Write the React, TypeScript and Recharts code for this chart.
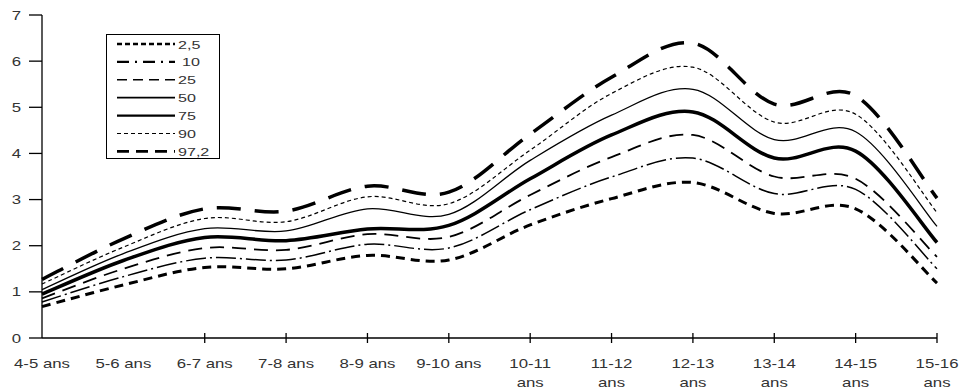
import React from 'react';
import { LineChart, Line, XAxis, YAxis, Legend } from 'recharts';

const categories = ['4-5 ans', '5-6 ans', '6-7 ans', '7-8 ans', '8-9 ans', '9-10 ans', '10-11 ans', '11-12 ans', '12-13 ans', '13-14 ans', '14-15 ans', '15-16 ans'];

const p2_5 = [0.68, 1.15, 1.53, 1.5, 1.79, 1.69, 2.45, 3.02, 3.37, 2.7, 2.8, 1.19];
const p10 = [0.78, 1.33, 1.73, 1.69, 2.03, 1.95, 2.78, 3.49, 3.9, 3.13, 3.22, 1.5];
const p25 = [0.86, 1.5, 1.95, 1.91, 2.25, 2.19, 3.1, 3.92, 4.4, 3.5, 3.45, 1.76];
const p50 = [0.95, 1.68, 2.18, 2.11, 2.36, 2.44, 3.45, 4.4, 4.9, 3.9, 4.05, 2.07];
const p75 = [1.05, 1.83, 2.37, 2.32, 2.8, 2.68, 3.85, 4.83, 5.39, 4.3, 4.47, 2.42];
const p90 = [1.17, 1.97, 2.59, 2.52, 3.06, 2.91, 4.07, 5.3, 5.87, 4.68, 4.85, 2.72];
const p97_2 = [1.27, 2.15, 2.8, 2.75, 3.29, 3.16, 4.42, 5.65, 6.39, 5.07, 5.25, 3.03];

const seriesNames = ['2,5', '10', '25', '50', '75', '90', '97,2'];
const seriesValues = [p2_5, p10, p25, p50, p75, p90, p97_2];
const yTicks = [0, 1, 2, 3, 4, 5, 6, 7];

const seriesStyles = [
  { dash: '9 6', width: 3, legendDash: '5 3', legendWidth: 2.4 },
  { dash: '20 4 2 4', width: 1.5, legendDash: '12 6 2 6', legendWidth: 2.2 },
  { dash: '14 8', width: 1.8, legendDash: '10 6', legendWidth: 1.6 },
  { dash: undefined, width: 3.5, legendDash: undefined, legendWidth: 1.8 },
  { dash: undefined, width: 1.3, legendDash: undefined, legendWidth: 2.2 },
  { dash: '4 3', width: 1.2, legendDash: '4 3', legendWidth: 1.2 },
  { dash: '24 14', width: 3.5, legendDash: '12 7', legendWidth: 2.6 },
];

const data = categories.map((cat, i) => {
  const row: Record<string, any> = { cat };
  seriesValues.forEach((vals, s) => {
    row['s' + s] = vals[i];
  });
  return row;
});

// Excel-like smoothed line (Catmull-Rom through the points)
const smoothCurve = (context: any) => {
  let pts: number[][] = [];
  return {
    areaStart() {},
    areaEnd() {},
    lineStart() {
      pts = [];
    },
    point(x: number, y: number) {
      pts.push([+x, +y]);
    },
    lineEnd() {
      if (!pts.length) return;
      context.moveTo(pts[0][0], pts[0][1]);
      for (let i = 0; i < pts.length - 1; i++) {
        const p0 = pts[i - 1] || pts[i];
        const p1 = pts[i];
        const p2 = pts[i + 1];
        const p3 = pts[i + 2] || pts[i + 1];
        const c1x = p1[0] + (p2[0] - p0[0]) / 6;
        const c1y = p1[1] + (p2[1] - p0[1]) / 6;
        const c2x = p2[0] - (p3[0] - p1[0]) / 6;
        const c2y = p2[1] - (p3[1] - p1[1]) / 6;
        context.bezierCurveTo(c1x, c1y, c2x, c2y, p2[0], p2[1]);
      }
    },
  };
};

const FONT = '"Liberation Sans", Arial, sans-serif';
const SX = 1.4;
const TEXT_FILL = '#333';

const XTick = (props: any) => {
  const { x, y, payload } = props;
  const idx = payload && payload.index != null ? payload.index : props.index;
  const label: string = String(payload.value);
  const sp = label.lastIndexOf(' ');
  const lines = label.length > 8 && sp > 0 ? [label.slice(0, sp), label.slice(sp + 1)] : [label];
  return (
    <g>
      {idx > 1 && <line x1={x} x2={x} y1={y - 5} y2={y + 5} stroke="#000" strokeWidth={1.3} />}
      {lines.map((l, i) => (
        <text
          key={i}
          transform={`translate(${x},${y + 30 + i * 19}) scale(${SX},1)`}
          textAnchor="middle"
          fontSize={12}
          fontFamily={FONT}
          fill={TEXT_FILL}
        >
          {l}
        </text>
      ))}
    </g>
  );
};

const YTick = (props: any) => {
  const { x, y, payload } = props;
  return (
    <text
      transform={`translate(${x},${y + 4.5}) scale(${SX},1)`}
      textAnchor="end"
      fontSize={12}
      fontFamily={FONT}
      fill={TEXT_FILL}
    >
      {payload.value}
    </text>
  );
};

const LegendBox = () => {
  const w = 114;
  const h = 125;
  return (
    <svg width={w} height={h} style={{ display: 'block' }}>
      <rect x={0.5} y={0.5} width={w - 1} height={h - 1} fill="#fff" stroke="#000" strokeWidth={1} />
      {seriesNames.map((n, i) => {
        const cy = 10 + i * 17.9;
        const st = seriesStyles[i];
        return (
          <g key={n}>
            <line x1={11} x2={69} y1={cy} y2={cy} stroke="#000" strokeWidth={st.legendWidth} strokeDasharray={st.legendDash} />
            <text
              transform={`translate(${n === '10' ? 76 : 72},${cy + 4.5}) scale(${SX},1)`}
              fontSize={11.5}
              fontFamily={FONT}
              fill={TEXT_FILL}
            >
              {n}
            </text>
          </g>
        );
      })}
    </svg>
  );
};

export default function App() {
  return (
    <div style={{ position: 'absolute', left: 0, top: 0, width: 960, height: 392, background: '#fff' }}>
      <LineChart width={960} height={392} data={data} margin={{ top: 15, right: 23, bottom: 0, left: 0 }}>
        <XAxis
          dataKey="cat"
          height={54}
          interval={0}
          tick={<XTick />}
          tickLine={false}
          tickSize={0}
          tickMargin={0}
          axisLine={{ stroke: '#000', strokeWidth: 1.3 }}
        />
        <XAxis xAxisId="top" dataKey="cat" orientation="top" height={0} tick={false} tickLine={false} axisLine={{ stroke: '#000', strokeWidth: 1.3 }} />
        <YAxis
          width={42}
          domain={[0, 7]}
          ticks={yTicks}
          interval={0}
          tick={<YTick />}
          tickSize={13}
          tickMargin={8}
          tickLine={{ stroke: '#000', strokeWidth: 1.3 }}
          axisLine={{ stroke: '#000', strokeWidth: 1.3 }}
        />
        <YAxis yAxisId="right" orientation="right" width={0} domain={[0, 7]} tick={false} tickLine={false} axisLine={{ stroke: '#000', strokeWidth: 1.3 }} />
        <Legend
          layout="vertical"
          align="center"
          verticalAlign="middle"
          content={<LegendBox />}
          wrapperStyle={{ position: 'absolute', left: 106, top: 34, width: 114, height: 125 }}
        />
        {seriesNames.map((n, i) => (
          <Line
            key={n}
            name={n}
            dataKey={'s' + i}
            type={smoothCurve as any}
            stroke="#000"
            strokeWidth={seriesStyles[i].width}
            strokeDasharray={seriesStyles[i].dash}
            dot={false}
            activeDot={false}
            isAnimationActive={false}
          />
        ))}
      </LineChart>
    </div>
  );
}
